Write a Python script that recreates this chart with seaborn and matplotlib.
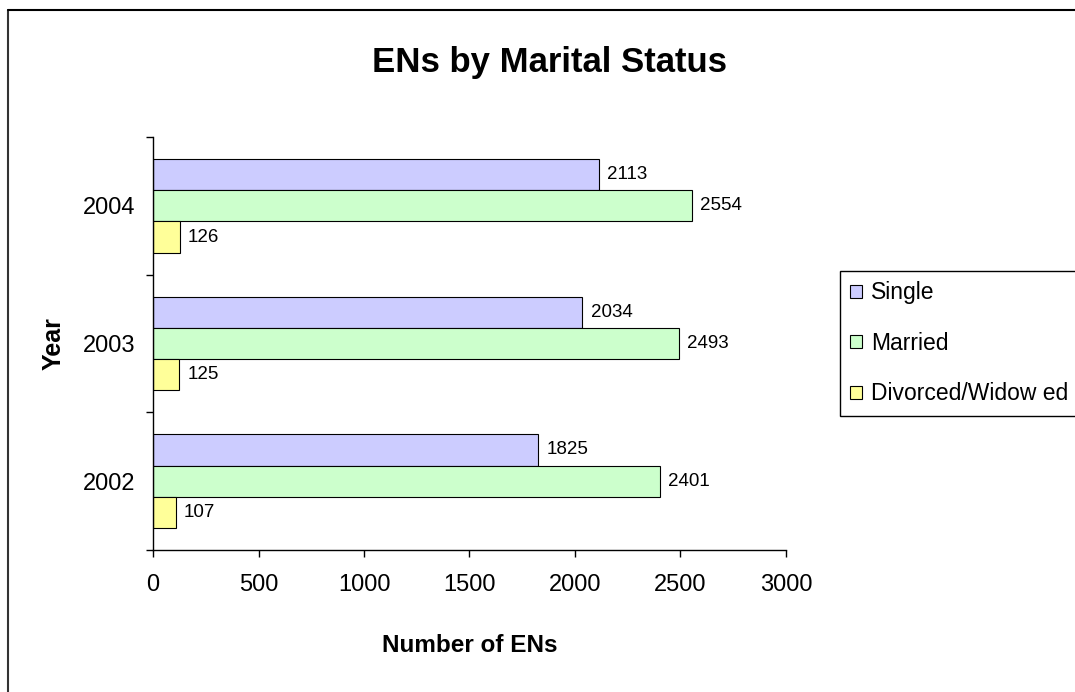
import pandas as pd
import matplotlib.pyplot as plt
from matplotlib.lines import Line2D
from matplotlib.ticker import FixedLocator
import seaborn as sns

# Chart data
years = ["2004", "2003", "2002"]
statuses = ["Single", "Married", "Divorced/Widow ed"]
single = [2113, 2034, 1825]
married = [2554, 2493, 2401]
divorced = [126, 125, 107]
x_ticks = [0, 500, 1000, 1500, 2000, 2500, 3000]

colors = {"Single": "#CCCCFF", "Married": "#CCFFCC", "Divorced/Widow ed": "#FFFF99"}

sns.set_style("white")
plt.rcParams['font.family'] = ['Liberation Sans', 'DejaVu Sans']
plt.rcParams['text.color'] = 'black'
plt.rcParams['axes.labelcolor'] = 'black'
plt.rcParams['xtick.color'] = 'black'
plt.rcParams['ytick.color'] = 'black'

rows = []
for i, yr in enumerate(years):
    for status, vals in zip(statuses, [single, married, divorced]):
        rows.append({"Year": yr, "Status": status, "Count": vals[i]})
df = pd.DataFrame(rows)

fig = plt.figure(figsize=(10.75, 6.92), dpi=100)
ax = fig.add_axes([153 / 1075, 1 - 550 / 692, 633 / 1075, 413 / 692])

sns.barplot(data=df, x="Count", y="Year", hue="Status", order=years,
            hue_order=statuses, palette=colors, orient="h", width=0.68,
            edgecolor="black", linewidth=0.8, saturation=1, ax=ax)

for cont in ax.containers:
    ax.bar_label(cont, padding=6, fontsize=13.5)

ax.set_xlim(0, 3000)
ax.set_ylim(2.5, -0.5)
ax.set_xticks(x_ticks)
ax.set_xticklabels([str(t) for t in x_ticks], fontsize=17)
ax.tick_params(axis="x", bottom=True, length=5, width=1, pad=12, direction="out")
ax.tick_params(axis="y", which="major", left=False, length=0, pad=13, labelsize=17)
ax.yaxis.set_minor_locator(FixedLocator([-0.5, 0.5, 1.5, 2.5]))
ax.tick_params(axis="y", which="minor", left=True, length=5, width=1, direction="out")

for side in ["top", "right"]:
    ax.spines[side].set_visible(False)
for side in ["left", "bottom"]:
    ax.spines[side].set_color("black")
    ax.spines[side].set_linewidth(1)

ax.set_xlabel("Number of ENs", fontsize=17.5, fontweight="bold")
ax.set_ylabel("Year", fontsize=18, fontweight="bold")
ax.xaxis.set_label_coords(0.5, (550 - 634) / 413)
ax.yaxis.set_label_coords((66 - 153) / 633, 0.5)

ax.legend_.remove()
handles = [plt.Rectangle((0, 0), 1, 1, facecolor=colors[s], edgecolor="black", linewidth=0.8)
           for s in statuses]
leg = fig.legend(handles, statuses, loc="upper left",
                 bbox_to_anchor=(840 / 1075, 1 - 271 / 692), fontsize=16.5,
                 frameon=True, fancybox=False, framealpha=1, labelspacing=1.2,
                 handlelength=0.5, handleheight=0.5, handletextpad=0.4,
                 borderpad=0.45, borderaxespad=0)
leg.get_frame().set_edgecolor("black")
leg.get_frame().set_linewidth(1)

fig.text(549 / 1075, 1 - 72 / 692, "ENs by Marital Status", fontsize=25,
         fontweight="bold", ha="center", va="baseline")

# outer chart border (only left and top edges show)
fig.add_artist(Line2D([8 / 1075, 8 / 1075], [0, 1 - 10 / 692], color="#333333", linewidth=1.5))
fig.add_artist(Line2D([8 / 1075, 1], [1 - 10 / 692, 1 - 10 / 692], color="black", linewidth=1.5))

fig.savefig("out.png", dpi=100)
